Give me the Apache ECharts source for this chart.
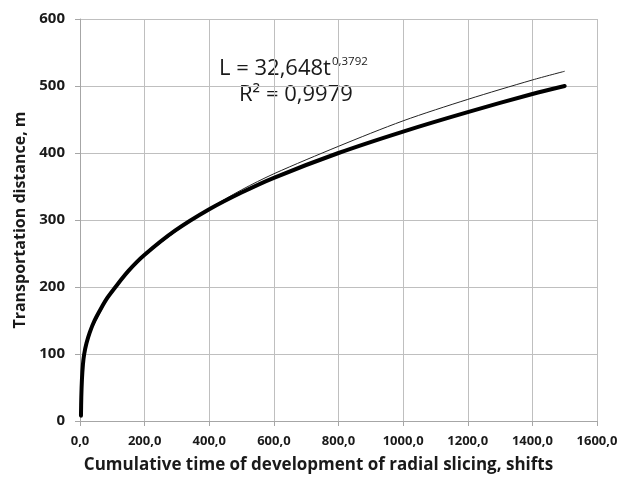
<!DOCTYPE html>
<html>
<head>
<meta charset="utf-8">
<script src="https://cdn.jsdelivr.net/npm/echarts@6/dist/echarts.min.js"></script>
<style>html,body{margin:0;padding:0;background:#fff;}#c{width:631px;height:479px;}</style>
</head>
<body>
<div id="c"></div>
<script>
// Data
const xTicks = [0, 200, 400, 600, 800, 1000, 1200, 1400, 1600];
const yTicks = [0, 100, 200, 300, 400, 500, 600];
const dataT = [3, 4, 6, 9, 13, 20, 30, 45, 65, 85, 108, 150, 200, 294, 400, 500, 600, 800, 1000, 1200, 1400, 1500];
const dataL = [8, 35, 62, 84, 100, 116, 132, 150, 168, 184, 199, 224, 248, 284, 316, 341, 363, 400, 432, 461, 488, 500];
const trendT = [6, 13, 25, 50, 100, 200, 300, 400, 500, 600, 800, 1000, 1200, 1400, 1500];
const trendL = [62, 98, 124, 150, 194, 246, 284, 317, 345, 369, 410, 448, 480, 509, 522];
const eqText = 'L = 32,648t';
const eqSup = '0,3792';
const r2Text = 'R² = 0,9979';

const pairs = (a, b) => a.map((v, i) => [v, b[i]]);
const chart = echarts.init(document.getElementById('c'), null, {renderer: 'canvas'});
const F = "'Open Sans', sans-serif";
chart.setOption({
  animation: false,
  grid: {left: 80, right: 34, top: 19, bottom: 57, containLabel: false},
  xAxis: {
    type: 'value', min: xTicks[0], max: xTicks[xTicks.length - 1], interval: 200,
    name: 'Cumulative time of development of radial slicing, shifts',
    nameLocation: 'middle', nameGap: 36,
    nameTextStyle: {fontFamily: F, fontWeight: 'bold', fontSize: 17, color: '#1a1a1a', padding: [0, 40, 0, 0]},
    axisLine: {show: true, lineStyle: {color: '#a6a6a6', width: 1}},
    axisTick: {show: true, length: 5, lineStyle: {color: '#a6a6a6'}},
    axisLabel: {margin: 14, fontFamily: F, fontWeight: 'bold', fontSize: 13, color: '#1a1a1a',
      formatter: v => v.toFixed(1).replace('.', ',')},
    splitLine: {show: true, lineStyle: {color: '#bfbfbf', width: 1}}
  },
  yAxis: {
    type: 'value', min: yTicks[0], max: yTicks[yTicks.length - 1], interval: 100,
    name: 'Transportation distance, m',
    nameLocation: 'middle', nameGap: 52, nameRotate: 90,
    nameTextStyle: {fontFamily: F, fontWeight: 'bold', fontSize: 16, color: '#1a1a1a'},
    axisLine: {show: true, lineStyle: {color: '#a6a6a6', width: 1}},
    axisTick: {show: true, length: 5, lineStyle: {color: '#a6a6a6'}},
    axisLabel: {margin: 15, fontFamily: F, fontWeight: 'bold', fontSize: 15, color: '#1a1a1a'},
    splitLine: {show: true, lineStyle: {color: '#bfbfbf', width: 1}}
  },
  series: [
    {type: 'line', data: pairs(trendT, trendL), smooth: 0.3, showSymbol: false, z: 2,
      lineStyle: {color: '#222', width: 1}},
    {type: 'line', data: pairs(dataT, dataL), smooth: 0.3, showSymbol: false, z: 3,
      lineStyle: {color: '#000', width: 4, cap: 'round'}}
  ],
  graphic: [
    {type: 'text', left: 219, top: 56, style: {
      text: '{m|' + eqText + '}{s|' + eqSup + '}',
      rich: {
        m: {fontFamily: F, fontSize: 22, lineHeight: 24, fill: '#1a1a1a', verticalAlign: 'bottom'},
        s: {fontFamily: F, fontSize: 11.5, lineHeight: 24, fill: '#1a1a1a', verticalAlign: 'top', padding: [0, 0, 10, 1]}
      }}},
    {type: 'text', left: 239, top: 84, style: {text: r2Text, fontFamily: F, fontSize: 22, fill: '#1a1a1a'}}
  ]
});
</script>
</body>
</html>
